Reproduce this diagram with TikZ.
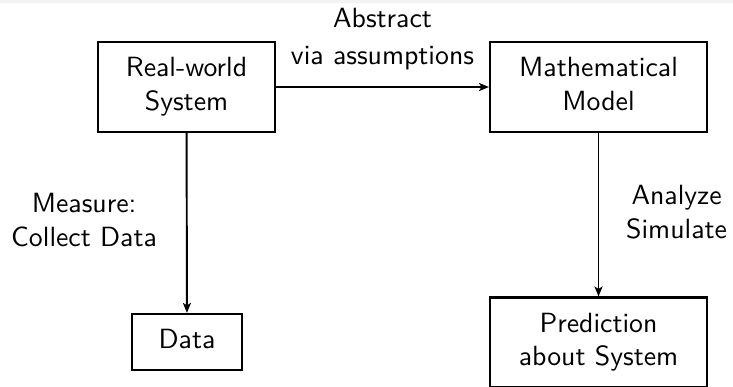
\documentclass[tikz,border=0pt]{standalone}
\usetikzlibrary{arrows.meta}
\definecolor{bandgray}{RGB}{242,242,242}
\begin{document}
\begin{tikzpicture}[x=0.36pt,y=-0.36pt, font=\sffamily,
  box/.style={draw, line width=0.75pt, inner sep=0pt, minimum height=32.4pt, align=center},
  lbl/.style={inner sep=0pt, align=center},
  arr/.style={-{Stealth[length=3.6pt, width=2.9pt, inset=0.9pt]}, line width=0.7pt}]
\useasboundingbox (0,0) rectangle (733,386);
\fill[bandgray] (0,0) rectangle (733,3.5);
\node[box, minimum width=63.7pt] (real) at (186.5,87) {Real-world\strut\\System\strut};
\node[box, minimum width=78.1pt] (math) at (598.5,87) {Mathematical\strut\\Model\strut};
\node[box, minimum width=39.6pt, minimum height=20.2pt] (data) at (187,342) {Data\strut};
\node[box, minimum width=78.1pt] (pred) at (598.5,342.5) {Prediction\strut\\about System\strut};
\draw[arr] (real) -- (math) node[midway, above=4.3pt, lbl] (l1) {Abstract\strut\\[1pt]via assumptions\strut};
\draw[arr] (real) -- (data) node[midway, left=10.4pt, lbl] (l2) {Measure:\strut\\Collect Data\strut};
\draw[arr] (math) -- (pred) node[midway, right=9.6pt, lbl] (l3) {Analyze\strut\\Simulate\strut};
\end{tikzpicture}
\end{document}
